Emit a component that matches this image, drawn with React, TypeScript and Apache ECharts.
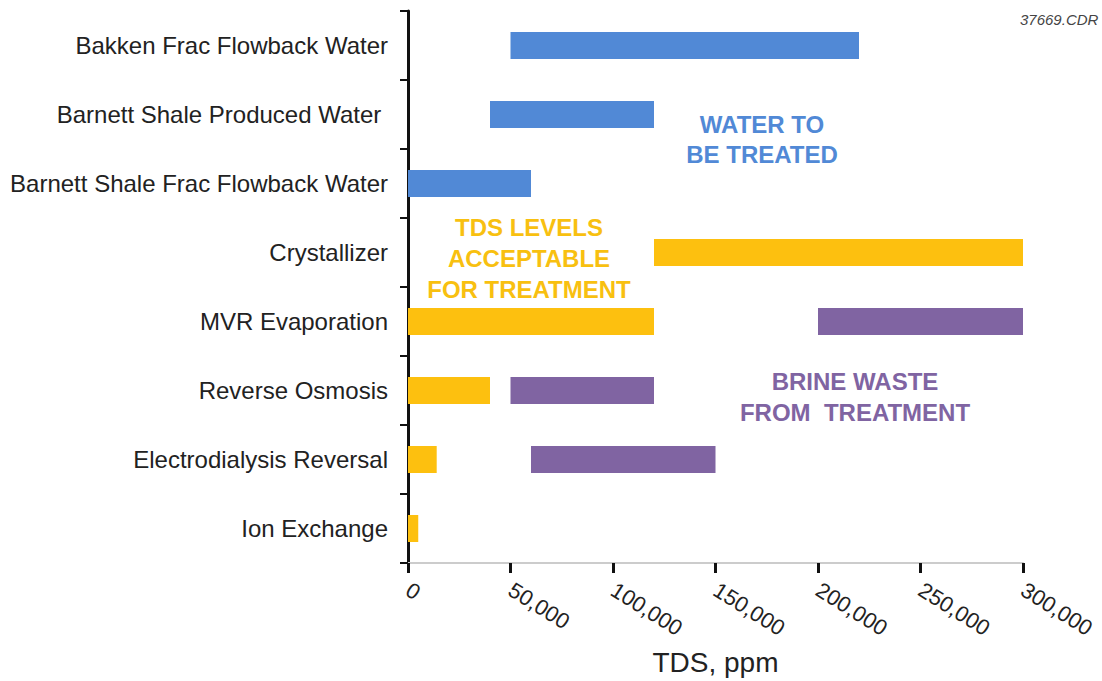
import React, { useEffect, useRef } from "react";
import * as echarts from "echarts";

const categories = [
  "Bakken Frac Flowback Water",
  "Barnett Shale Produced Water ",
  "Barnett Shale Frac Flowback Water",
  "Crystallizer",
  "MVR Evaporation",
  "Reverse Osmosis",
  "Electrodialysis Reversal",
  "Ion Exchange",
];

// [start, end] in ppm TDS, one entry per category (null = none)
const waterRanges: ([number, number] | null)[] = [
  [50000, 220000],
  [40000, 120000],
  [0, 60000],
  null,
  null,
  null,
  null,
  null,
];
const acceptableRanges: ([number, number] | null)[] = [
  null,
  null,
  null,
  [120000, 300000],
  [0, 120000],
  [0, 40000],
  [0, 14000],
  [0, 5000],
];
const brineRanges: ([number, number] | null)[] = [
  null,
  null,
  null,
  null,
  [200000, 300000],
  [50000, 120000],
  [60000, 150000],
  null,
];

const xTicks = { min: 0, max: 300000, interval: 50000 };

const BLUE = "#5189d6";
const YELLOW = "#fdc00f";
const PURPLE = "#8064a2";
const FONT = "Liberation Sans, Arial, sans-serif";

export default function App() {
  const ref = useRef<HTMLDivElement>(null);
  useEffect(() => {
    if (!ref.current) return;
    const chart = echarts.init(ref.current, null, { renderer: "svg" });

    const first = categories.map((_, i) => waterRanges[i] || acceptableRanges[i]);
    const base = first.map((r) => (r ? r[0] : 0));
    const blueLen = waterRanges.map((r) => (r ? r[1] - r[0] : 0));
    const yellowLen = acceptableRanges.map((r) => (r ? r[1] - r[0] : 0));
    const gap = categories.map((_, i) => {
      const b = brineRanges[i];
      const f = first[i];
      return b && f ? b[0] - f[1] : 0;
    });
    const purpleLen = brineRanges.map((r) => (r ? r[1] - r[0] : 0));

    const barWidth = 27;
    const common = { type: "bar", stack: "t", barWidth, silent: true };

    chart.setOption({
      animation: false,
      grid: {
        left: 408,
        right: 79,
        top: 11,
        bottom: 118,
        containLabel: false,
        outerBoundsMode: "none",
      },
      xAxis: {
        type: "value",
        min: xTicks.min,
        max: xTicks.max,
        interval: xTicks.interval,
        splitLine: { show: false },
        axisLine: { show: true, lineStyle: { color: "#cccccc", width: 2 } },
        axisTick: { show: true, length: 10, lineStyle: { color: "#111", width: 3 } },
        axisLabel: {
          rotate: -32,
          margin: 25,
          fontSize: 22,
          color: "#222",
          fontFamily: FONT,
          formatter: (v: number) => v.toLocaleString("en-US"),
        },
        name: "TDS, ppm",
        nameLocation: "middle",
        nameGap: 85,
        nameTextStyle: { fontSize: 28, color: "#222", fontFamily: FONT },
      },
      yAxis: {
        type: "category",
        inverse: true,
        data: categories,
        axisLine: { show: true, lineStyle: { color: "#111", width: 3 } },
        axisTick: { show: true, length: 8, lineStyle: { color: "#111", width: 2 } },
        axisLabel: { fontSize: 24, color: "#222", margin: 20, fontFamily: FONT },
      },
      series: [
        { ...common, name: "base", data: base, itemStyle: { color: "transparent" } },
        { ...common, name: "Water to be treated", data: blueLen, itemStyle: { color: BLUE } },
        { ...common, name: "TDS acceptable", data: yellowLen, itemStyle: { color: YELLOW } },
        { ...common, name: "gap", data: gap, itemStyle: { color: "transparent" } },
        { ...common, name: "Brine waste", data: purpleLen, itemStyle: { color: PURPLE } },
      ],
      graphic: [
        {
          type: "text",
          left: 1020,
          top: 12,
          style: {
            text: "37669.CDR",
            fontSize: 15,
            fontStyle: "italic",
            fill: "#444",
            fontFamily: FONT,
          },
        },
        {
          type: "text",
          x: 762,
          y: 109,
          style: {
            text: "WATER TO\nBE TREATED",
            fontSize: 24,
            fontWeight: "bold",
            lineHeight: 30,
            fill: BLUE,
            align: "center",
            fontFamily: FONT,
          },
        },
        {
          type: "text",
          x: 529,
          y: 212,
          style: {
            text: "TDS LEVELS\nACCEPTABLE\nFOR TREATMENT",
            fontSize: 24,
            fontWeight: "bold",
            lineHeight: 31,
            fill: "#f8c010",
            align: "center",
            fontFamily: FONT,
          },
        },
        {
          type: "text",
          x: 855,
          y: 366,
          style: {
            text: "BRINE WASTE\nFROM  TREATMENT",
            fontSize: 24,
            fontWeight: "bold",
            lineHeight: 31,
            fill: PURPLE,
            align: "center",
            fontFamily: FONT,
          },
        },
      ],
    });
    return () => chart.dispose();
  }, []);
  return <div ref={ref} style={{ width: 1102, height: 681, position: "absolute", left: 0, top: 0 }} />;
}
